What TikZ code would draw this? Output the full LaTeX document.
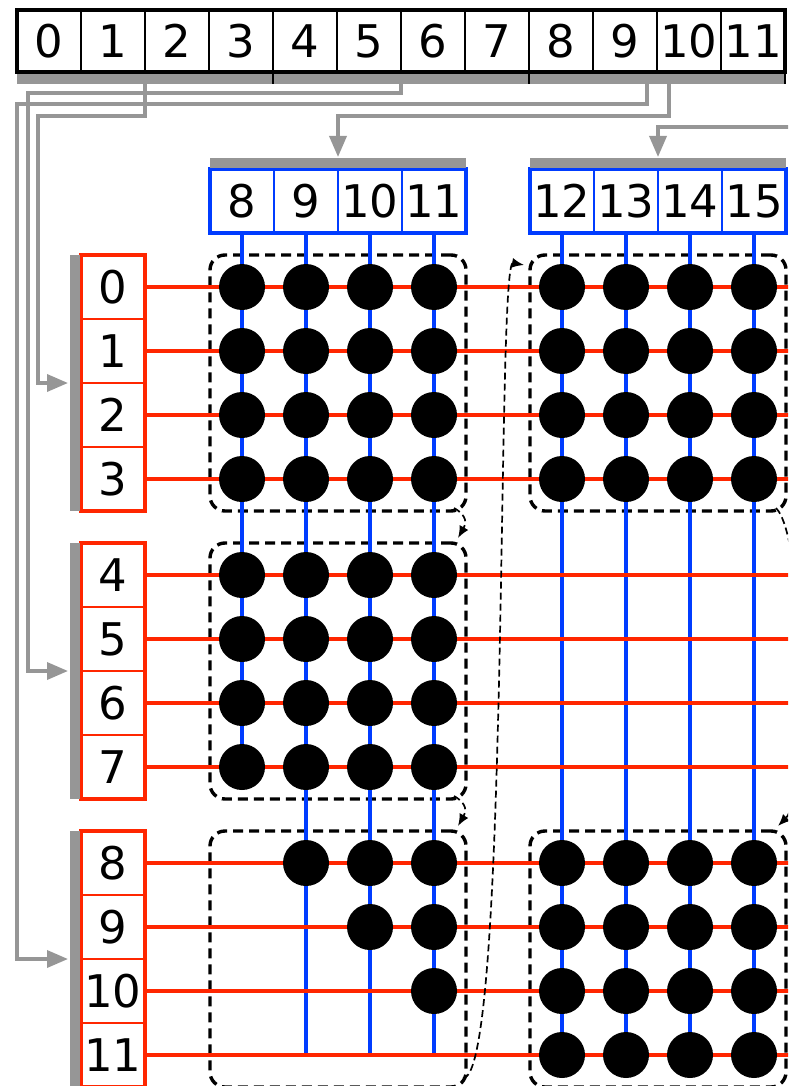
\documentclass[tikz,border=0pt]{standalone}
\usepackage{fontspec}
\setmainfont{DejaVu Sans}
\usetikzlibrary{arrows.meta,positioning}

\definecolor{rowred}{RGB}{255,38,0}
\definecolor{colblue}{RGB}{0,60,255}
\definecolor{busgray}{RGB}{150,150,150}

\begin{document}
\begin{tikzpicture}[
  x=1pt,y=-1pt,
  >=Latex,
  font=\fontsize{45}{48}\selectfont,
  cell/.style={draw,line width=1.6pt,minimum width=64pt,minimum height=64pt,inner sep=0pt,outer sep=0pt},
  topcell/.style={cell,draw=black,minimum height=62pt},
  colcell/.style={cell,draw=colblue},
  rowcell/.style={cell,draw=rowred},
  frame/.style={line width=3.8pt},
  bus/.style={busgray,line width=10pt},
  feed/.style={busgray,line width=3.5pt,-{Triangle[length=21pt,width=17pt]}},
  tile/.style={draw,dashed,dash pattern=on 10pt off 6pt,line width=3.4pt,rounded corners=15pt,
    minimum width=256pt,minimum height=256pt,inner sep=0pt,outer sep=0pt},
  hop/.style={dashed,dash pattern=on 7pt off 4pt,line width=1.7pt,-{Latex[length=12pt,width=10pt]}},
  rowline/.style={rowred,line width=4pt},
  colline/.style={colblue,line width=4pt},
  pe/.style={circle,fill=black,minimum size=46pt,inner sep=0pt}
]
  \useasboundingbox (0,0) rectangle (788,1086);
  \clip (0,0) rectangle (788,1086);
  \coordinate (edge) at (792,0);
  \coordinate (offr) at (792,127);

  % top register
  \node[topcell] (t0) at (49,41) {0};
  \foreach \i [count=\j from 0] in {1,...,11}
    \node[topcell,right=0pt of t\j] (t\i) {\i};
  \draw[frame] (t0.north west) rectangle (t11.south east);
  \draw[bus] ([yshift=-7pt]t0.south west) -- ([yshift=-7pt]t11.south east);
  \foreach \i in {3,7,11}
    \draw[line width=2.4pt] (t\i.south east) -- ++(0,12);

  % column registers
  \node[colcell] (c8) at (242,201) {8};
  \node[colcell] (c12) at (562,201) {12};
  \foreach \i [count=\j from 8] in {9,10,11}
    \node[colcell,right=0pt of c\j] (c\i) {\i};
  \foreach \i [count=\j from 12] in {13,14,15}
    \node[colcell,right=0pt of c\j] (c\i) {\i};
  \draw[frame,colblue] (c8.north west) rectangle (c11.south east);
  \draw[frame,colblue] (c12.north west) rectangle (c15.south east);
  \draw[bus] ([yshift=6pt]c8.north west) -- ([yshift=6pt]c11.north east);
  \draw[bus] ([yshift=6pt]c12.north west) -- ([yshift=6pt]c15.north east);

  % row registers
  \node[rowcell] (r0) at (113,287) {0};
  \node[rowcell] (r4) at (113,575) {4};
  \node[rowcell] (r8) at (113,863) {8};
  \foreach \i/\j in {1/0,2/1,3/2,5/4,6/5,7/6,9/8,10/9,11/10}
    \node[rowcell,below=0pt of r\j] (r\i) {\i};
  \foreach \a/\b in {0/3,4/7,8/11} {
    \draw[frame,rowred] (r\a.north west) rectangle (r\b.south east);
    \draw[bus] ([xshift=-6.5pt]r\a.north west) -- ([xshift=-6.5pt]r\b.south west);
  }

  % feeds
  \draw[feed] ([yshift=-12pt]t2.south west) -- ++(0,32) -| ([xshift=-43pt]r2.north west)
    -- ([xshift=-13pt]r2.north west);
  \draw[feed] ([yshift=-12pt]t6.south west) -- ++(0,9) -| ([xshift=-53pt]r6.north west)
    -- ([xshift=-13pt]r6.north west);
  \draw[feed] ([xshift=-10pt,yshift=-12pt]t9.south east) -- ++(0,20) -| ([xshift=-64pt]r10.north west)
    -- ([xshift=-13pt]r10.north west);
  \draw[feed] ([xshift=12pt,yshift=-12pt]t10.south west) -- ++(0,32) -| ([yshift=12pt]c9.north east);
  \draw[feed] (offr) -| ([yshift=12pt]c13.north east);

  % tiles
  \node[tile] (blk11) at (c9.east |- r1.south) {};
  \node[tile] (blk12) at (c9.east |- r5.south) {};
  \node[tile] (blk13) at (c9.east |- r9.south) {};
  \node[tile] (blk21) at (c13.east |- r1.south) {};
  \node[tile] (blk23) at (c13.east |- r9.south) {};

  % wires
  \draw[colline] (c8.south) -- (c8 |- r7);
  \foreach \c in {9,...,15}
    \draw[colline] (c\c.south) -- (c\c |- r11);
  \foreach \r in {0,...,11}
    \draw[rowline] (r\r.east) -- (r\r -| edge);

  % processing elements
  \foreach \r in {0,...,7}
    \foreach \c in {8,...,11}
      \node[pe] (p\r-\c) at (c\c |- r\r) {};
  \foreach \r in {0,1,2,3,8,9,10,11}
    \foreach \c in {12,...,15}
      \node[pe] (p\r-\c) at (c\c |- r\r) {};
  \foreach \r/\c in {8/9,8/10,8/11,9/10,9/11,10/11}
    \node[pe] (p\r-\c) at (c\c |- r\r) {};

  % tile order
  \draw[hop] ([shift={(-12pt,3pt)}]blk11.south east) .. controls +(14,8) and +(8,-14) .. ([shift={(-8pt,5pt)}]blk12.north east);
  \draw[hop] ([shift={(-12pt,3pt)}]blk12.south east) .. controls +(14,8) and +(8,-14) .. ([shift={(-8pt,5pt)}]blk13.north east);
  \draw[hop] ([shift={(-3pt,9pt)}]blk13.south east) .. controls +(47,2) and +(-28,-5) .. ([shift={(-6pt,-10pt)}]blk21.north west);
  \draw[hop] ([shift={(-10pt,3pt)}]blk21.south east) .. controls +(30,30) and +(30,-30) .. ([shift={(-8pt,5pt)}]blk23.north east);
\end{tikzpicture}
\end{document}
